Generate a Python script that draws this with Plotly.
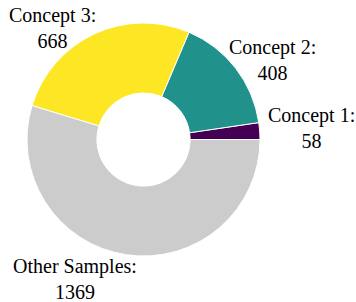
import plotly.graph_objects as go

labels = ["Concept 1", "Concept 2", "Concept 3", "Other Samples"]
values = [58, 408, 668, 1369]
colors = ["#440154", "#21918c", "#fde725", "#cccccc"]

# label text block centres (pixels, layout styling only)
label_px = [(311, 128), (272, 60), (52, 28), (75, 279)]

W, H = 356, 302
L, R, T, B = 27, 96, 23, 46
pw, ph = W - L - R, H - T - B

total = sum(values)
fig = go.Figure(go.Pie(
    labels=labels,
    values=values,
    sort=False,
    direction="counterclockwise",
    rotation=90 - values[0] / total * 360,
    hole=0.4,
    marker=dict(colors=colors, line=dict(color="white", width=1)),
    textinfo="none",
    showlegend=False,
    hoverinfo="skip",
))

font = dict(family="Liberation Serif, Times New Roman, serif", size=20, color="black")
for lab, val, (px, py) in zip(labels, values, label_px):
    fig.add_annotation(
        x=(px - L) / pw, y=(H - B - py) / ph, xref="paper", yref="paper",
        text=f"{lab}:<br>{val}", showarrow=False, align="center",
        xanchor="center", yanchor="middle", font=font,
    )

fig.update_layout(
    width=W, height=H,
    margin=dict(l=L, r=R, t=T, b=B, autoexpand=False),
    paper_bgcolor="white",
    plot_bgcolor="white",
)

fig.write_html("out.html", config={"displayModeBar": False},
               post_script="document.body.style.margin='0px';")
